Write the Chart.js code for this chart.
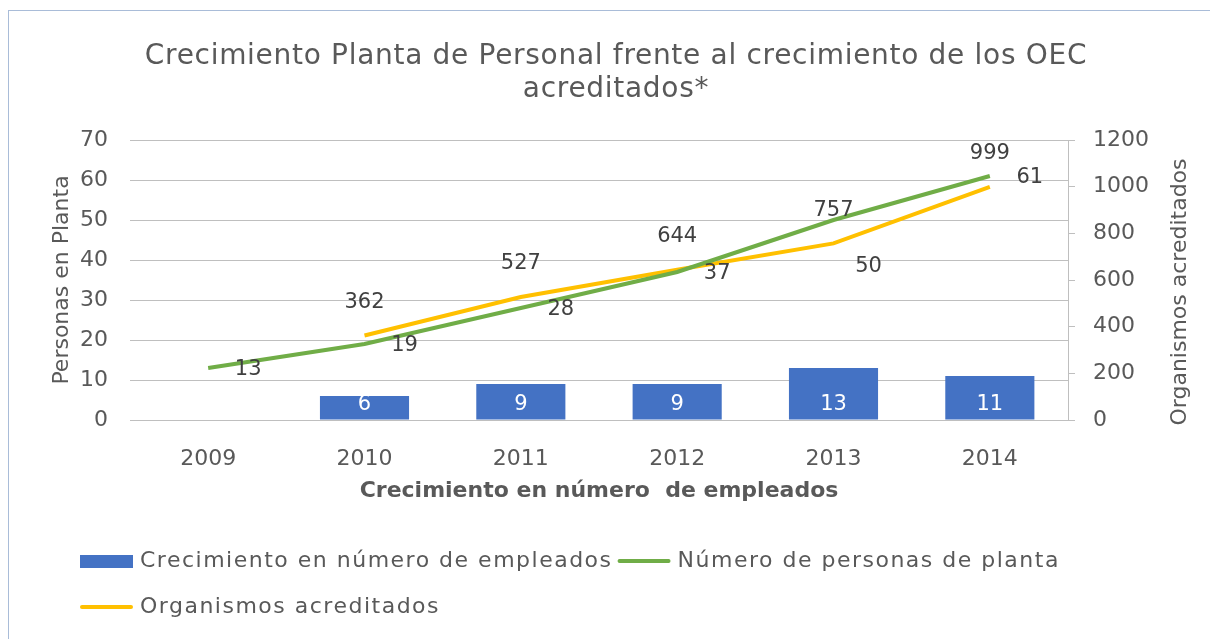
<!DOCTYPE html>
<html>
<head>
<meta charset="utf-8">
<script src="https://cdn.jsdelivr.net/npm/chart.js@4"></script>
<style>
  html, body { margin: 0; padding: 0; background: #fff; }
  canvas { display: block; }
</style>
</head>
<body>
<canvas id="chart" width="1210" height="639"></canvas>
<script>
// datos
const years = ['2009', '2010', '2011', '2012', '2013', '2014'];
const growth = [null, 6, 9, 9, 13, 11];
const staff = [13, 19, 28, 37, 50, 61];
const accredited = [null, 362, 527, 644, 757, 999];
const titleLines = ['Crecimiento Planta de Personal frente al crecimiento de los OEC', 'acreditados*'];

const FONT = 'DejaVu Sans';
const GREY = '#595959';
const BLUE = '#4472C4';
const GREEN = '#70AD47';
const YELLOW = '#FFC000';

// frame, title, data labels and legend drawn by hand
const decorations = {
    id: 'decorations',
    beforeDraw(chart) {
        const ctx = chart.ctx;
        ctx.save();
        ctx.strokeStyle = '#A9BCD8';
        ctx.lineWidth = 1;
        ctx.strokeRect(8.5, 10.5, 1230, 660);
        ctx.restore();
    },
    afterDraw(chart) {
        const ctx = chart.ctx;
        ctx.save();
        ctx.fillStyle = GREY;
        ctx.font = '28px ' + FONT;
        ctx.letterSpacing = '0.7px';
        ctx.textAlign = 'center';
        ctx.textBaseline = 'middle';
        ctx.fillText(titleLines[0], 616, 57);
        ctx.fillText(titleLines[1], 616, 90);
        ctx.letterSpacing = '0px';

        // right axis title, reads bottom to top
        ctx.save();
        ctx.font = '22px ' + FONT;
        ctx.translate(1180, 292);
        ctx.rotate(-Math.PI / 2);
        ctx.fillText('Organismos acreditados', 0, 0);
        ctx.restore();

        // bar labels
        ctx.font = '21px ' + FONT;
        chart.getDatasetMeta(0).data.forEach((bar, i) => {
            if (growth[i] == null) return;
            ctx.fillStyle = '#ffffff';
            ctx.fillText(String(growth[i]), bar.x, bar.base - 15);
        });
        // green labels, to the right
        ctx.fillStyle = '#404040';
        chart.getDatasetMeta(1).data.forEach((pt, i) => {
            let dx = 40, dy = 2;
            if (i === 4) { dx = 35; dy = 47; }
            ctx.fillText(String(staff[i]), pt.x + dx, pt.y + dy);
        });
        // yellow labels, above
        chart.getDatasetMeta(2).data.forEach((pt, i) => {
            if (accredited[i] == null) return;
            ctx.fillText(String(accredited[i]), pt.x, pt.y - 33);
        });

        // legend
        ctx.font = '22px ' + FONT;
        ctx.letterSpacing = '1.5px';
        ctx.textAlign = 'left';
        ctx.fillStyle = GREY;
        const items = chart.data.datasets.map(d => ({ text: d.label, type: d.type, color: d.borderColor || d.backgroundColor }));
        let x = 80, y = 561;
        items.forEach(item => {
            const w = 53 + 7 + ctx.measureText(item.text).width;
            if (x + w > 1100) { x = 80; y += 46; }
            if (item.type === 'bar') {
                ctx.fillStyle = BLUE;
                ctx.fillRect(x, y - 6, 53, 13);
            } else {
                ctx.strokeStyle = item.color;
                ctx.lineWidth = 4;
                ctx.lineCap = 'round';
                ctx.beginPath();
                ctx.moveTo(x + 2, y);
                ctx.lineTo(x + 51, y);
                ctx.stroke();
            }
            ctx.fillStyle = GREY;
            ctx.fillText(item.text, x + 60, y);
            x += w + 5;
        });
        ctx.restore();
    }
};

new Chart(document.getElementById('chart'), {
    data: {
        labels: years,
        datasets: [
            {
                type: 'bar',
                label: 'Crecimiento en número de empleados',
                data: growth,
                backgroundColor: BLUE,
                yAxisID: 'y',
                barPercentage: 0.57,
                categoryPercentage: 1,
                order: 3
            },
            {
                type: 'line',
                label: 'Número de personas de planta',
                data: staff,
                borderColor: GREEN,
                borderWidth: 4,
                pointRadius: 0,
                tension: 0,
                yAxisID: 'y',
                order: 1
            },
            {
                type: 'line',
                label: 'Organismos acreditados',
                data: accredited,
                borderColor: YELLOW,
                borderWidth: 4,
                pointRadius: 0,
                tension: 0,
                yAxisID: 'y2',
                order: 2
            }
        ]
    },
    options: {
        responsive: false,
        animation: false,
        layout: { padding: { top: 140, left: 40, right: 13, bottom: 129 } },
        plugins: {
            legend: { display: false },
            title: { display: false },
            tooltip: { enabled: false }
        },
        scales: {
            x: {
                grid: { display: false },
                border: { display: false },
                ticks: { color: GREY, font: { family: FONT, size: 22 }, padding: 18 },
                title: {
                    display: true,
                    text: 'Crecimiento en número  de empleados',
                    color: GREY,
                    font: { family: FONT, size: 22, weight: 'bold' },
                    padding: { top: 0, bottom: 6 }
                },
                afterFit(scale) { scale.height = 90; }
            },
            y: {
                position: 'left',
                min: 0,
                max: 70,
                grid: { color: '#BFBFBF', drawTicks: false },
                border: { display: false },
                ticks: { stepSize: 10, color: GREY, font: { family: FONT, size: 22 }, padding: 22 },
                title: {
                    display: true,
                    text: 'Personas en Planta',
                    color: GREY,
                    font: { family: FONT, size: 22 },
                    padding: { top: 9, bottom: 0 }
                },
                afterFit(scale) { scale.width = 90; }
            },
            y2: {
                position: 'right',
                min: 0,
                max: 1200,
                grid: { drawOnChartArea: false, color: '#BFBFBF', tickLength: 7 },
                border: { display: true, color: '#BFBFBF' },
                ticks: {
                    stepSize: 200,
                    color: GREY,
                    font: { family: FONT, size: 22 },
                    padding: 18,
                    callback: v => String(v)
                },
                title: { display: false },
                afterFit(scale) { scale.width = 129; }
            }
        }
    },
    plugins: [decorations]
});
</script>
</body>
</html>
